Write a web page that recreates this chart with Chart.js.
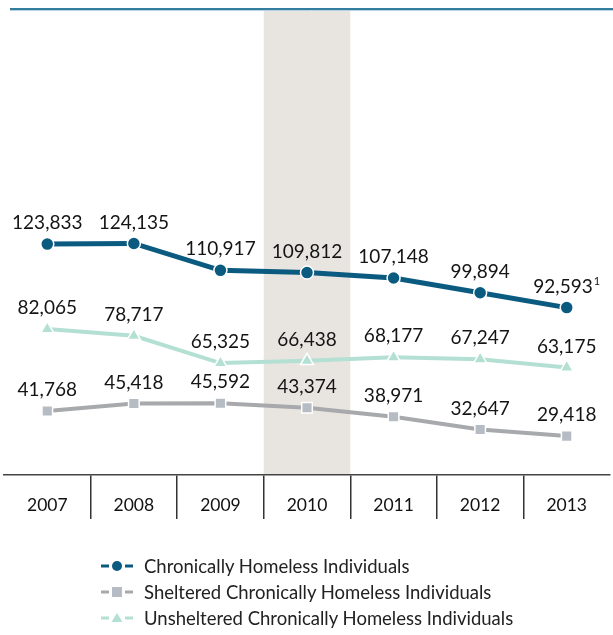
<!DOCTYPE html>
<html>
<head>
<meta charset="utf-8">
<script src="https://cdn.jsdelivr.net/npm/chart.js@4/dist/chart.umd.min.js"></script>
<style>
	body { margin: 0; background: #fff; }
	#wrap { position: relative; width: 613px; height: 635px; }
	#legend { position: absolute; left: 101px; top: 553px; font-family: Lato, sans-serif; font-size: 18.5px; color: #222; }
	.row { display: flex; align-items: center; height: 26px; }
	.row canvas { margin-right: 11px; }
</style>
</head>
<body>
<div id="wrap">
	<canvas id="homelessChart" width="613" height="635"></canvas>
	<div id="legend"></div>
</div>
<script>
const years = ["2007", "2008", "2009", "2010", "2011", "2012", "2013"];
const chronic = [123833, 124135, 110917, 109812, 107148, 99894, 92593];
const sheltered = [41768, 45418, 45592, 43374, 38971, 32647, 29418];
const unsheltered = [82065, 78717, 65325, 66438, 68177, 67247, 63175];
const chronicNotes = ["", "", "", "", "", "", "1"];
const seriesNames = [
	"Chronically Homeless Individuals",
	"Sheltered Chronically Homeless Individuals",
	"Unsheltered Chronically Homeless Individuals",
];
const highlightYear = "2010";

const colors = {
	chronic: "#0b5b80",
	shelteredLine: "#a7a9ac",
	shelteredPoint: "#b5bcc4",
	unsheltered: "#b3e0d3",
};

function createDataset(label, data, lineColor, pointColor, pointStyle, width, radius, notes) {
	return {
		label: label,
		data: data,
		borderColor: lineColor,
		backgroundColor: pointColor,
		borderWidth: width,
		pointStyle: pointStyle,
		pointRadius: radius,
		pointHoverRadius: radius,
		pointBackgroundColor: pointColor,
		pointBorderColor: "#fff",
		pointBorderWidth: 1.5,
		tension: 0,
		notes: notes || [],
	};
}

const bandPlugin = {
	id: "band",
	beforeDraw(chart) {
		const { ctx, chartArea, scales } = chart;
		const x = scales.x;
		const step = x.getPixelForValue(1) - x.getPixelForValue(0);
		const mid = x.getPixelForValue(years.indexOf(highlightYear));
		ctx.save();
		ctx.fillStyle = "#e8e5e0";
		ctx.fillRect(mid - step / 2, chartArea.top + 1, step, chartArea.bottom - chartArea.top - 1);
		// rule across the top
		ctx.strokeStyle = "#b7d3e3";
		ctx.lineWidth = 1;
		ctx.beginPath();
		ctx.moveTo(10, chartArea.top + 0.5);
		ctx.lineTo(chart.width, chartArea.top + 0.5);
		ctx.stroke();
		ctx.strokeStyle = "#347d9f";
		ctx.lineWidth = 2;
		ctx.beginPath();
		ctx.moveTo(10, chartArea.top - 1);
		ctx.lineTo(chart.width, chartArea.top - 1);
		ctx.stroke();
		ctx.restore();
	},
};

const valueLabelPlugin = {
	id: "valueLabels",
	afterDatasetsDraw(chart) {
		const ctx = chart.ctx;
		ctx.save();
		ctx.fillStyle = "#141414";
		ctx.textBaseline = "middle";
		ctx.textAlign = "left";
		chart.data.datasets.forEach((ds, di) => {
			const meta = chart.getDatasetMeta(di);
			meta.data.forEach((pt, i) => {
				const text = ds.data[i].toLocaleString("en-US");
				const note = ds.notes[i] || "";
				ctx.font = "19px Lato";
				const w = ctx.measureText(text).width;
				ctx.font = "11px Lato";
				const nw = note ? ctx.measureText(note).width + 1 : 0;
				const left = pt.x - (w + nw) / 2;
				const y = pt.y - 21;
				ctx.font = "19px Lato";
				ctx.fillText(text, left, y);
				if (note) {
					ctx.font = "11px Lato";
					ctx.fillText(note, left + w + 1, y - 5);
				}
			});
		});
		ctx.restore();
	},
};

const ctx = document.getElementById("homelessChart").getContext("2d");

const myChart = new Chart(ctx, {
	type: "line",
	data: {
		labels: years,
		datasets: [
			createDataset(seriesNames[0], chronic, colors.chronic, colors.chronic, "circle", 5, 6.5, chronicNotes),
			createDataset(seriesNames[1], sheltered, colors.shelteredLine, colors.shelteredPoint, "rect", 4, 7.5),
			createDataset(seriesNames[2], unsheltered, colors.unsheltered, colors.unsheltered, "triangle", 4, 7.5),
		],
	},
	options: {
		responsive: false,
		animation: false,
		layout: {
			autoPadding: false,
			padding: { top: 10, left: 4, right: 3, bottom: 110 },
		},
		plugins: {
			legend: { display: false },
			tooltip: { enabled: false },
		},
		scales: {
			x: {
				offset: true,
				grid: {
					offset: true,
					drawOnChartArea: false,
					tickLength: 44,
					lineWidth: 1.5,
					color: (c) => (c.type === "tick" && c.index > 0 ? "#333" : "rgba(0,0,0,0)"),
				},
				border: { display: true, color: "#444", width: 1.5 },
				ticks: {
					padding: -24,
					color: "#111",
					font: { family: "Lato", size: 17.5 },
				},
				afterFit: (scale) => {
					scale.height = 50;
				},
			},
			y: {
				display: false,
				min: 10300,
				max: 238900,
			},
		},
	},
	plugins: [bandPlugin, valueLabelPlugin],
});

// legend built as html, marker drawn like the series
function drawMarker(canvas, ds) {
	const c = canvas.getContext("2d");
	const cy = canvas.height / 2;
	c.strokeStyle = ds.borderColor;
	c.lineWidth = 3;
	c.beginPath();
	c.moveTo(0, cy);
	c.lineTo(8, cy);
	c.moveTo(24, cy);
	c.lineTo(32, cy);
	c.stroke();
	c.fillStyle = ds.pointBackgroundColor;
	c.beginPath();
	if (ds.pointStyle === "circle") {
		c.arc(16, cy, 5, 0, Math.PI * 2);
	} else if (ds.pointStyle === "rect") {
		c.rect(11, cy - 5, 10, 10);
	} else {
		c.moveTo(16, cy - 5);
		c.lineTo(21.5, cy + 4);
		c.lineTo(10.5, cy + 4);
		c.closePath();
	}
	c.fill();
}

const legend = document.getElementById("legend");
myChart.data.datasets.forEach((ds) => {
	const row = document.createElement("div");
	row.className = "row";
	const marker = document.createElement("canvas");
	marker.width = 32;
	marker.height = 14;
	drawMarker(marker, ds);
	const label = document.createElement("span");
	label.textContent = ds.label;
	row.appendChild(marker);
	row.appendChild(label);
	legend.appendChild(row);
});
</script>
</body>
</html>
